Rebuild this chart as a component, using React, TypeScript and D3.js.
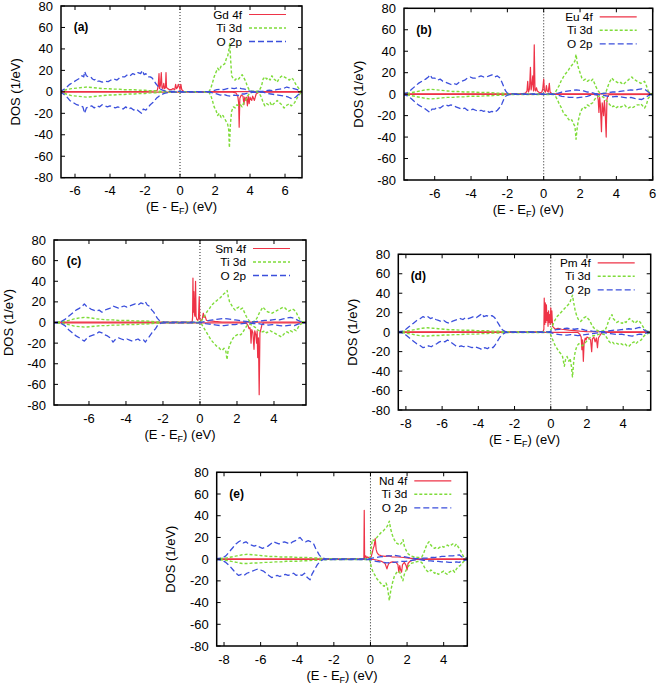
import React from 'react';
import * as d3 from 'd3';

type Pt = [number, number];

// ---------- shared axis values ----------
const Y_TICKS = [-80, -60, -40, -20, 0, 20, 40, 60, 80];
const X_TICKS_AB = [-6, -4, -2, 0, 2, 4, 6];
const X_TICKS_C = [-6, -4, -2, 0, 2, 4];
const X_TICKS_DE = [-8, -6, -4, -2, 0, 2, 4];
const PANEL_LABELS = ['(a)', '(b)', '(c)', '(d)', '(e)'];
const ELEMENTS = ['Gd', 'Eu', 'Sm', 'Pm', 'Nd'];
const SERIES_NAMES = ['4f', 'Ti 3d', 'O 2p'];

// ---------- (a) Gd ----------
const GD_F_UP: Pt[] = [[-6.9,0.3],[-2,0.5],[-1.5,0.8],[-1.3,1.5],[-1.25,5],[-1.2,17],[-1.17,3],[-1.12,6],[-1.07,18],[-1.03,4],[-0.98,3],[-0.93,8],[-0.88,3],[-0.83,4],[-0.8,18],[-0.77,4],[-0.7,3],[-0.6,2],[-0.5,2],[-0.4,3],[-0.3,2],[-0.25,7],[-0.2,3],[-0.15,4],[-0.1,7],[-0.05,5],[0,2],[0.05,7],[0.1,2],[0.2,0.5],[1.5,0.3],[7.1,0.3]];
const GD_F_DN: Pt[] = [[-6.9,-0.3],[3.0,-0.3],[3.2,-1],[3.3,-4],[3.35,-10],[3.38,-33],[3.42,-6],[3.5,-3],[3.6,-4],[3.65,-12],[3.7,-5],[3.75,-8],[3.8,-5],[3.85,-13],[3.9,-4],[3.95,-11],[4.0,-5],[4.1,-8],[4.15,-4],[4.25,-8],[4.3,-5],[4.35,-2],[4.5,-0.3],[7.1,-0.3]];
const GD_TI_UP: Pt[] = [[-6.9,0.5],[-6.5,2],[-6.2,3],[-5.9,3.5],[-5.6,4],[-5.3,4.5],[-5.0,4],[-4.7,3.5],[-4.4,3],[-4.1,3],[-3.8,2.5],[-3.5,2.5],[-3.2,2],[-2.9,2],[-2.6,2],[-2.3,1.5],[-2,1.5],[-1.7,1],[-1.4,1],[-1.1,0.5],[-0.8,0.3],[0,0.2],[1.65,0.2],[1.75,3],[1.85,8],[1.95,14],[2.05,18],[2.15,22],[2.25,20],[2.35,24],[2.45,25],[2.55,26],[2.65,31],[2.72,33],[2.78,38],[2.84,45],[2.9,28],[2.95,15],[3.05,12],[3.15,11],[3.25,13],[3.35,12],[3.45,14],[3.55,16],[3.65,13],[3.75,10],[3.85,5],[3.95,2],[4.1,0.5],[4.5,0.5],[4.65,5],[4.75,12],[4.85,14],[4.95,12],[5.05,13],[5.15,11],[5.25,15],[5.35,12],[5.45,11],[5.55,9],[5.65,12],[5.75,14],[5.85,15],[5.95,14],[6.05,13],[6.15,12],[6.25,11],[6.35,13],[6.45,12],[6.55,9],[6.65,6],[6.75,4],[6.9,1],[7.1,0.3]];
const GD_TI_DN: Pt[] = [[-6.9,-0.5],[-6.5,-2],[-6.2,-3.5],[-5.9,-4],[-5.6,-4.5],[-5.3,-5],[-5.0,-4.5],[-4.7,-4],[-4.4,-3.5],[-4.1,-3],[-3.8,-3],[-3.5,-2.5],[-3.2,-2.5],[-2.9,-2],[-2.6,-2],[-2.3,-1.5],[-2,-1.5],[-1.7,-1],[-1.4,-1],[-1.1,-0.5],[-0.8,-0.3],[0,-0.2],[1.65,-0.2],[1.75,-3],[1.85,-8],[1.95,-14],[2.05,-17],[2.15,-22],[2.25,-20],[2.35,-24],[2.45,-22],[2.55,-25],[2.65,-28],[2.72,-30],[2.78,-35],[2.82,-52],[2.88,-30],[2.95,-18],[3.05,-14],[3.15,-15],[3.25,-12],[3.35,-13],[3.45,-12],[3.55,-14],[3.65,-10],[3.75,-8],[3.85,-4],[3.95,-2],[4.1,-0.5],[4.5,-0.5],[4.65,-5],[4.75,-10],[4.85,-13],[4.95,-11],[5.05,-12],[5.15,-10],[5.25,-13],[5.35,-11],[5.45,-10],[5.55,-8],[5.65,-10],[5.75,-11],[5.85,-13],[5.95,-15],[6.05,-13],[6.15,-12],[6.25,-11],[6.35,-13],[6.45,-12],[6.55,-10],[6.65,-7],[6.75,-4],[6.9,-1],[7.1,-0.3]];
const GD_O_UP: Pt[] = [[-6.9,0.5],[-6.7,1.5],[-6.5,4],[-6.3,7],[-6.1,9],[-5.9,11],[-5.7,13],[-5.6,15],[-5.5,14],[-5.45,19],[-5.35,15],[-5.25,14],[-5.1,14],[-5.0,12],[-4.9,11],[-4.8,12],[-4.7,10],[-4.6,10],[-4.45,9],[-4.3,10],[-4.1,9.5],[-3.95,11],[-3.8,12],[-3.6,11],[-3.45,13],[-3.3,14],[-3.15,14],[-3.0,16],[-2.85,15],[-2.7,17],[-2.55,16],[-2.4,18],[-2.25,17],[-2.15,20],[-2.05,16],[-1.95,17],[-1.85,14],[-1.7,14],[-1.6,13],[-1.5,11],[-1.4,8],[-1.3,6],[-1.2,4],[-1.1,2.5],[-1.0,1.5],[-0.85,0.8],[-0.6,0.5],[-0.3,0.5],[0,0.5],[0.1,0.2],[1.7,0.2],[1.9,1],[2.1,2],[2.3,2.5],[2.5,2],[2.7,3],[2.9,3.5],[3.1,3],[3.3,4],[3.5,3],[3.7,2.5],[3.9,1],[4.1,0.5],[4.4,0.3],[4.7,0.5],[4.9,1],[5.1,1.5],[5.3,1],[5.5,2],[5.7,2.5],[5.9,3],[6.1,4.5],[6.3,3.5],[6.5,3],[6.7,2],[6.9,0.5],[7.1,0.3]];
const GD_O_DN: Pt[] = [[-6.9,-0.5],[-6.7,-1.5],[-6.5,-4],[-6.3,-8],[-6.1,-10],[-5.9,-12],[-5.7,-13],[-5.55,-14],[-5.45,-20],[-5.35,-15],[-5.2,-14],[-5.05,-13],[-4.9,-15],[-4.75,-13],[-4.6,-14],[-4.45,-12],[-4.3,-13],[-4.15,-14],[-4.0,-13],[-3.85,-14],[-3.7,-15],[-3.55,-14],[-3.4,-15],[-3.25,-16],[-3.1,-14],[-2.95,-16],[-2.8,-15],[-2.65,-17],[-2.5,-16],[-2.35,-18],[-2.2,-20],[-2.1,-16],[-1.95,-17],[-1.85,-15],[-1.7,-12],[-1.55,-10],[-1.45,-8],[-1.35,-6],[-1.2,-4],[-1.05,-2.5],[-0.9,-1.5],[-0.7,-0.8],[-0.4,-0.3],[0,-0.3],[1.7,-0.2],[1.9,-1],[2.1,-2],[2.3,-3],[2.5,-2.5],[2.7,-3.5],[2.9,-4],[3.1,-3],[3.3,-3.5],[3.5,-2],[3.7,-2],[3.9,-1],[4.1,-0.5],[4.5,-0.3],[4.8,-0.5],[5.0,-1.5],[5.2,-2],[5.4,-2.5],[5.6,-3],[5.8,-3.5],[6.0,-4],[6.2,-5],[6.4,-6.5],[6.6,-5],[6.8,-2],[7.1,-0.3]];

// ---------- (b) Eu ----------
const EU_F_UP: Pt[] = [[-7.8,0.3],[-1.2,0.3],[-1.0,1],[-0.92,3],[-0.88,12],[-0.84,2],[-0.78,5],[-0.73,25],[-0.69,4],[-0.64,10],[-0.6,17],[-0.56,3],[-0.52,46],[-0.48,4],[-0.44,3],[-0.4,6],[-0.35,3],[-0.28,2],[-0.2,1],[-0.1,2],[-0.05,5],[0.0,14],[0.04,3],[0.1,2],[0.15,8],[0.19,3],[0.25,2],[0.31,10],[0.35,2],[0.45,0.5],[1,0.3],[6.1,0.3]];
const EU_F_DN: Pt[] = [[-7.8,-0.3],[2.8,-0.3],[2.95,-1],[3.0,-5],[3.04,-17],[3.08,-3],[3.12,-10],[3.18,-35],[3.22,-8],[3.26,-14],[3.3,-20],[3.34,-6],[3.38,-15],[3.44,-40],[3.48,-5],[3.52,-2],[3.6,-0.5],[6.1,-0.3]];
const EU_TI_UP: Pt[] = [[-7.8,0.3],[-7.4,1],[-7.1,2],[-6.8,3],[-6.5,4],[-6.2,4.5],[-5.9,4],[-5.6,3.5],[-5.3,3],[-5.0,2.5],[-4.7,2.5],[-4.4,2],[-4.1,2],[-3.8,2],[-3.5,1.5],[-3.2,1.5],[-2.9,1.5],[-2.6,1],[-2.3,1],[-2.0,0.5],[-1.7,0.3],[0.55,0.3],[0.65,2],[0.75,5],[0.85,8],[0.95,12],[1.05,15],[1.15,18],[1.25,20],[1.35,22],[1.45,25],[1.55,27],[1.65,29],[1.72,31],[1.78,37],[1.84,30],[1.9,25],[2.0,20],[2.1,15],[2.2,13],[2.3,14],[2.4,12],[2.5,13],[2.6,12],[2.7,14],[2.8,10],[2.9,6],[3.0,3],[3.1,1],[3.3,0.5],[3.45,3],[3.55,8],[3.65,12],[3.75,15],[3.85,13],[3.95,12],[4.05,11],[4.15,10],[4.25,11],[4.35,9],[4.45,10],[4.55,12],[4.65,13],[4.75,15],[4.85,16],[4.95,14],[5.05,13],[5.15,12],[5.25,11],[5.35,10],[5.45,11],[5.55,12],[5.65,8],[5.75,3],[5.9,0.5],[6.1,0.3]];
const EU_TI_DN: Pt[] = [[-7.8,-0.3],[-7.4,-1],[-7.1,-2],[-6.8,-3],[-6.5,-4],[-6.2,-4.5],[-5.9,-4],[-5.6,-3.5],[-5.3,-3],[-5.0,-3],[-4.7,-2.5],[-4.4,-2.5],[-4.1,-2],[-3.8,-2],[-3.5,-2],[-3.2,-1.5],[-2.9,-1.5],[-2.6,-1],[-2.3,-1],[-2.0,-0.5],[-1.7,-0.3],[0.55,-0.3],[0.65,-2],[0.75,-5],[0.85,-9],[0.95,-12],[1.05,-16],[1.15,-19],[1.25,-20],[1.35,-23],[1.45,-25],[1.55,-24],[1.65,-28],[1.72,-30],[1.78,-42],[1.84,-32],[1.9,-25],[2.0,-18],[2.1,-14],[2.2,-12],[2.3,-13],[2.4,-10],[2.5,-11],[2.6,-9],[2.7,-8],[2.8,-5],[2.9,-3],[3.0,-2],[3.15,-1.5],[3.3,-3],[3.45,-6],[3.55,-8],[3.65,-10],[3.75,-12],[3.85,-11],[3.95,-13],[4.05,-12],[4.15,-11],[4.25,-12],[4.35,-11],[4.45,-10],[4.55,-12],[4.65,-13],[4.75,-12],[4.85,-13],[4.95,-12],[5.05,-11],[5.15,-10],[5.25,-10],[5.35,-9],[5.45,-11],[5.55,-13],[5.65,-10],[5.75,-4],[5.9,-1],[6.1,-0.3]];
const EU_O_UP: Pt[] = [[-7.8,0.3],[-7.5,1.5],[-7.3,4],[-7.1,7],[-6.9,10],[-6.7,12],[-6.5,14],[-6.35,16],[-6.25,18],[-6.15,15],[-6.0,15],[-5.85,13],[-5.7,14],[-5.55,12],[-5.4,11],[-5.25,10],[-5.1,9],[-4.95,10],[-4.8,9],[-4.65,11],[-4.5,12],[-4.35,13],[-4.2,15],[-4.05,16],[-3.9,15],[-3.75,15],[-3.6,16],[-3.45,17],[-3.3,16],[-3.15,16],[-3.0,17],[-2.85,18],[-2.7,16],[-2.55,17],[-2.4,15],[-2.3,11],[-2.2,7],[-2.1,3],[-2.0,1],[-1.9,0.5],[-1.7,0.3],[0.6,0.3],[0.8,1],[1.0,2],[1.2,2.5],[1.4,3],[1.6,3.5],[1.8,4],[2.0,3.5],[2.2,3],[2.4,2],[2.6,1.5],[2.8,0.8],[3.0,0.5],[3.2,0.5],[3.4,1],[3.6,1.5],[3.8,2],[4.0,2],[4.2,2.5],[4.4,3],[4.6,3.5],[4.8,4],[5.0,3.5],[5.2,4.5],[5.4,5],[5.6,4],[5.75,2],[5.9,0.5],[6.1,0.3]];
const EU_O_DN: Pt[] = [[-7.8,-0.3],[-7.5,-1.5],[-7.3,-4],[-7.1,-7],[-6.9,-10],[-6.7,-12],[-6.5,-14],[-6.35,-16],[-6.25,-17],[-6.15,-14],[-6.0,-14],[-5.85,-12],[-5.7,-13],[-5.55,-11],[-5.4,-10],[-5.25,-11],[-5.1,-10],[-4.95,-11],[-4.8,-12],[-4.65,-13],[-4.5,-14],[-4.35,-13],[-4.2,-15],[-4.05,-15],[-3.9,-14],[-3.75,-15],[-3.6,-16],[-3.45,-15],[-3.3,-16],[-3.15,-15],[-3.0,-17],[-2.85,-16],[-2.7,-17],[-2.55,-15],[-2.4,-12],[-2.3,-9],[-2.2,-5],[-2.1,-2],[-2.0,-1],[-1.9,-0.5],[-1.7,-0.3],[0.6,-0.3],[0.8,-1],[1.0,-2],[1.2,-2.5],[1.4,-3],[1.6,-3],[1.8,-3.5],[2.0,-3],[2.2,-2.5],[2.4,-2],[2.6,-1],[2.8,-0.5],[3.0,-0.5],[3.2,-1],[3.4,-1.5],[3.6,-2],[3.8,-2.5],[4.0,-2],[4.2,-2.5],[4.4,-3],[4.6,-3.5],[4.8,-3],[5.0,-4],[5.2,-4.5],[5.4,-5],[5.6,-3],[5.75,-1.5],[5.9,-0.5],[6.1,-0.3]];

// ---------- (c) Sm ----------
const SM_F_UP: Pt[] = [[-8,0.3],[-0.5,0.3],[-0.42,1],[-0.4,5],[-0.38,43],[-0.36,10],[-0.33,30],[-0.3,8],[-0.27,6],[-0.24,40],[-0.21,6],[-0.17,3],[-0.12,2],[-0.08,4],[-0.04,25],[-0.01,3],[0.05,2],[0.12,3],[0.18,9],[0.22,5],[0.28,6],[0.35,2],[0.5,1.5],[0.8,1],[1.2,0.5],[5.8,0.3]];
const SM_F_DN: Pt[] = [[-8,-0.3],[2.5,-0.3],[2.6,-3],[2.65,-6],[2.7,-5],[2.73,-8],[2.76,-20],[2.8,-7],[2.86,-10],[2.92,-26],[2.96,-8],[3.02,-12],[3.06,-20],[3.09,-8],[3.12,-34],[3.16,-15],[3.2,-70],[3.24,-10],[3.3,-6],[3.35,-2],[3.45,-0.5],[5.8,-0.3]];
const SM_TI_UP: Pt[] = [[-8,0.3],[-7.7,0.5],[-7.4,1],[-7.1,2],[-6.8,3.5],[-6.5,4.5],[-6.2,5],[-5.9,4.5],[-5.6,3.5],[-5.3,3],[-5.0,2.5],[-4.7,2.5],[-4.4,2],[-4.1,2],[-3.8,2],[-3.5,1.5],[-3.2,1.5],[-2.9,1.5],[-2.6,1],[-2.3,0.5],[-2.0,0.3],[0.0,0.3],[0.1,2],[0.2,5],[0.3,8],[0.4,11],[0.5,13],[0.6,16],[0.7,18],[0.8,20],[0.9,21],[1.0,23],[1.1,24],[1.2,26],[1.3,28],[1.4,29],[1.47,31],[1.53,25],[1.6,20],[1.7,17],[1.8,14],[1.9,12],[2.0,14],[2.1,15],[2.2,13],[2.3,14],[2.4,10],[2.5,6],[2.6,3],[2.7,1],[2.85,0.5],[3.0,2],[3.1,5],[3.2,9],[3.3,12],[3.4,15],[3.5,13],[3.6,11],[3.7,10],[3.8,10],[3.9,9],[4.0,10],[4.1,11],[4.2,12],[4.3,13],[4.4,14],[4.5,15],[4.6,14],[4.7,12],[4.8,11],[4.9,12],[5.0,13],[5.1,12],[5.2,10],[5.3,6],[5.4,3],[5.5,1],[5.8,0.3]];
const SM_TI_DN: Pt[] = [[-8,-0.3],[-7.7,-0.5],[-7.4,-1],[-7.1,-2],[-6.8,-3.5],[-6.5,-4],[-6.2,-4.5],[-5.9,-4],[-5.6,-3.5],[-5.3,-3],[-5.0,-3],[-4.7,-2.5],[-4.4,-2.5],[-4.1,-2],[-3.8,-2],[-3.5,-2],[-3.2,-1.5],[-2.9,-1.5],[-2.6,-1],[-2.3,-0.5],[-2.0,-0.3],[0.0,-0.3],[0.1,-2],[0.2,-5],[0.3,-8],[0.4,-11],[0.5,-14],[0.6,-17],[0.7,-19],[0.8,-21],[0.9,-23],[1.0,-24],[1.1,-26],[1.2,-27],[1.3,-25],[1.4,-28],[1.46,-36],[1.52,-27],[1.6,-22],[1.7,-18],[1.8,-15],[1.9,-13],[2.0,-12],[2.1,-11],[2.2,-12],[2.3,-10],[2.4,-7],[2.5,-4],[2.6,-2],[2.7,-1.5],[2.85,-3],[3.0,-5],[3.1,-7],[3.2,-8],[3.3,-9],[3.4,-9],[3.5,-8],[3.6,-10],[3.7,-9],[3.8,-8],[3.9,-9],[4.0,-10],[4.1,-11],[4.2,-12],[4.3,-13],[4.4,-14],[4.5,-12],[4.6,-10],[4.7,-9],[4.8,-10],[4.9,-8],[5.0,-9],[5.1,-7],[5.2,-8],[5.3,-5],[5.4,-2],[5.5,-1],[5.8,-0.3]];
const SM_O_UP: Pt[] = [[-8,0.3],[-7.75,0.5],[-7.5,1],[-7.3,3],[-7.1,6],[-6.9,9],[-6.7,12],[-6.5,14],[-6.35,16],[-6.25,18],[-6.15,16],[-6.05,15],[-5.9,13],[-5.75,12],[-5.6,11],[-5.45,12],[-5.3,10],[-5.15,12],[-5.0,13],[-4.85,14],[-4.7,16],[-4.55,15],[-4.4,14],[-4.25,15],[-4.1,16],[-3.95,15],[-3.8,16],[-3.65,17],[-3.5,18],[-3.35,17],[-3.2,19],[-3.05,18],[-2.95,20],[-2.85,17],[-2.75,16],[-2.6,12],[-2.5,10],[-2.4,7],[-2.3,4],[-2.2,2],[-2.1,0.8],[-1.9,0.3],[0.1,0.3],[0.3,1],[0.5,2],[0.7,2.5],[0.9,3],[1.1,3.5],[1.3,4],[1.5,3.5],[1.7,3],[1.9,2.5],[2.1,2],[2.3,1.5],[2.5,1],[2.7,0.5],[2.9,0.5],[3.1,1],[3.3,1.5],[3.5,2],[3.7,2],[3.9,2.5],[4.1,3],[4.3,2.5],[4.5,3.5],[4.7,4.5],[4.9,5],[5.1,4],[5.3,2],[5.45,0.8],[5.8,0.3]];
const SM_O_DN: Pt[] = [[-8,-0.3],[-7.75,-0.5],[-7.5,-1],[-7.3,-3],[-7.1,-7],[-6.9,-10],[-6.7,-13],[-6.5,-15],[-6.35,-17],[-6.25,-18],[-6.15,-16],[-6.05,-14],[-5.9,-13],[-5.75,-12],[-5.6,-11],[-5.45,-9],[-5.3,-10],[-5.15,-12],[-5.0,-13],[-4.85,-15],[-4.7,-19],[-4.55,-16],[-4.4,-15],[-4.25,-16],[-4.1,-17],[-3.95,-16],[-3.8,-17],[-3.65,-18],[-3.5,-17],[-3.35,-16],[-3.2,-18],[-3.05,-17],[-2.95,-19],[-2.85,-16],[-2.75,-14],[-2.6,-10],[-2.5,-8],[-2.4,-6],[-2.3,-3],[-2.2,-1.5],[-2.1,-0.5],[-1.9,-0.3],[0.1,-0.3],[0.3,-1],[0.5,-1.5],[0.7,-2],[0.9,-2.5],[1.1,-3],[1.3,-3],[1.5,-2.5],[1.7,-2],[1.9,-2],[2.1,-1.5],[2.3,-1],[2.5,-0.5],[2.7,-0.5],[2.9,-1],[3.1,-1],[3.3,-1.5],[3.5,-2],[3.7,-2.5],[3.9,-2],[4.1,-2.5],[4.3,-3],[4.5,-3.5],[4.7,-3],[4.9,-2.5],[5.1,-3],[5.3,-1.5],[5.45,-0.8],[5.8,-0.3]];

// ---------- (d) Pm ----------
const PM_F_UP: Pt[] = [[-8.5,0.3],[-0.5,0.3],[-0.42,1],[-0.38,3],[-0.36,35],[-0.33,8],[-0.3,30],[-0.27,10],[-0.24,28],[-0.21,12],[-0.18,20],[-0.15,6],[-0.12,22],[-0.09,10],[-0.06,18],[-0.03,8],[0.0,25],[0.03,10],[0.06,22],[0.1,6],[0.15,5],[0.25,3],[0.4,4],[0.6,3],[0.8,2.5],[1.0,2],[1.3,1.5],[1.6,1],[2.0,0.5],[5.6,0.3]];
const PM_F_DN: Pt[] = [[-8.5,-0.3],[1.5,-0.3],[1.6,-2],[1.68,-5],[1.72,-18],[1.76,-8],[1.8,-30],[1.84,-12],[1.9,-6],[1.95,-8],[2.0,-5],[2.1,-6],[2.2,-8],[2.26,-20],[2.3,-7],[2.38,-5],[2.45,-10],[2.52,-6],[2.58,-16],[2.63,-6],[2.7,-4],[2.8,-1],[2.9,-0.3],[5.6,-0.3]];
const PM_TI_UP: Pt[] = [[-8.5,0.3],[-8.0,1],[-7.7,2],[-7.4,3],[-7.1,4],[-6.8,4.5],[-6.5,4],[-6.2,3.5],[-5.9,3],[-5.6,2.5],[-5.3,2.5],[-5.0,2],[-4.7,2],[-4.4,2],[-4.1,1.5],[-3.8,1.5],[-3.5,1.5],[-3.2,1],[-2.9,1],[-2.6,0.5],[-2.3,0.3],[-0.05,0.3],[0.05,4],[0.15,9],[0.25,13],[0.35,16],[0.45,18],[0.55,20],[0.65,22],[0.75,24],[0.85,26],[0.95,28],[1.05,30],[1.12,34],[1.2,38],[1.27,30],[1.35,22],[1.45,16],[1.55,12],[1.65,11],[1.75,13],[1.85,15],[1.95,16],[2.05,14],[2.15,12],[2.25,8],[2.35,5],[2.45,3],[2.6,1.5],[2.8,1],[3.0,2],[3.1,6],[3.2,12],[3.3,16],[3.38,18],[3.45,14],[3.55,12],[3.65,10],[3.75,11],[3.85,10],[3.95,9],[4.05,11],[4.15,10],[4.25,12],[4.35,14],[4.45,12],[4.55,11],[4.65,9],[4.75,11],[4.85,12],[4.95,10],[5.05,7],[5.15,4],[5.3,1],[5.6,0.3]];
const PM_TI_DN: Pt[] = [[-8.5,-0.3],[-8.0,-1],[-7.7,-2],[-7.4,-3],[-7.1,-4],[-6.8,-4],[-6.5,-3.5],[-6.2,-3.5],[-5.9,-3],[-5.6,-3],[-5.3,-2.5],[-5.0,-2.5],[-4.7,-2],[-4.4,-2],[-4.1,-2],[-3.8,-1.5],[-3.5,-1.5],[-3.2,-1],[-2.9,-1],[-2.6,-0.5],[-2.3,-0.3],[-0.05,-0.3],[0.05,-5],[0.15,-10],[0.25,-14],[0.35,-17],[0.45,-20],[0.55,-22],[0.65,-25],[0.75,-35],[0.82,-28],[0.9,-25],[1.0,-30],[1.07,-27],[1.14,-35],[1.2,-46],[1.27,-30],[1.35,-20],[1.45,-14],[1.55,-12],[1.65,-13],[1.75,-14],[1.85,-12],[1.95,-10],[2.05,-8],[2.15,-6],[2.3,-4],[2.5,-3],[2.7,-2],[2.9,-2],[3.0,-3],[3.1,-6],[3.2,-9],[3.3,-11],[3.4,-10],[3.5,-12],[3.6,-11],[3.7,-12],[3.8,-13],[3.9,-12],[4.0,-13],[4.1,-12],[4.2,-14],[4.3,-15],[4.4,-13],[4.5,-11],[4.6,-10],[4.7,-12],[4.8,-10],[4.9,-9],[5.0,-8],[5.1,-5],[5.25,-2],[5.6,-0.3]];
const PM_O_UP: Pt[] = [[-8.5,0.3],[-8.15,1],[-8.0,3],[-7.8,6],[-7.6,9],[-7.4,12],[-7.2,14],[-7.05,16],[-6.95,15],[-6.8,16],[-6.65,14],[-6.5,15],[-6.35,13],[-6.2,12],[-6.05,11],[-5.9,12],[-5.75,10],[-5.6,9],[-5.45,11],[-5.3,12],[-5.15,13],[-5.0,14],[-4.85,13],[-4.7,15],[-4.55,14],[-4.4,15],[-4.25,16],[-4.1,15],[-3.95,17],[-3.8,19],[-3.7,16],[-3.55,17],[-3.4,16],[-3.25,17],[-3.1,15],[-3.0,12],[-2.9,9],[-2.8,6],[-2.7,3],[-2.6,1.5],[-2.5,0.5],[-2.3,0.3],[-0.1,0.3],[0.1,1.5],[0.3,2.5],[0.5,3],[0.7,3.5],[0.9,4],[1.1,3.5],[1.3,3],[1.5,3.5],[1.7,3],[1.9,2],[2.1,1.5],[2.3,1],[2.5,0.8],[2.7,0.5],[2.9,0.5],[3.1,1],[3.3,1.5],[3.5,2],[3.7,2],[3.9,2.5],[4.1,3],[4.3,3.5],[4.5,3],[4.7,4],[4.9,5],[5.1,3],[5.25,1],[5.6,0.3]];
const PM_O_DN: Pt[] = [[-8.5,-0.3],[-8.15,-1],[-8.0,-3],[-7.8,-6],[-7.6,-9],[-7.4,-12],[-7.2,-14],[-7.05,-16],[-6.9,-15],[-6.75,-14],[-6.6,-15],[-6.45,-13],[-6.3,-12],[-6.15,-10],[-6.0,-9],[-5.85,-10],[-5.7,-8],[-5.55,-10],[-5.4,-12],[-5.25,-14],[-5.1,-15],[-4.95,-14],[-4.8,-15],[-4.65,-14],[-4.5,-15],[-4.35,-16],[-4.2,-15],[-4.05,-16],[-3.9,-17],[-3.8,-18],[-3.65,-16],[-3.5,-17],[-3.35,-15],[-3.2,-16],[-3.1,-14],[-3.0,-11],[-2.9,-8],[-2.8,-5],[-2.7,-3],[-2.6,-1.5],[-2.5,-0.5],[-2.3,-0.3],[-0.1,-0.3],[0.1,-1],[0.3,-2],[0.5,-2.5],[0.7,-3],[0.9,-3],[1.1,-2.5],[1.3,-3],[1.5,-3.5],[1.7,-3],[1.9,-2.5],[2.1,-2],[2.3,-1.5],[2.5,-1],[2.7,-0.5],[2.9,-0.5],[3.1,-1],[3.3,-1.5],[3.5,-2],[3.7,-2.5],[3.9,-2],[4.1,-3],[4.3,-3.5],[4.5,-4],[4.7,-3],[4.9,-2],[5.1,-2.5],[5.25,-1],[5.6,-0.3]];

// ---------- (e) Nd ----------
const ND_F_UP: Pt[] = [[-8.5,0.3],[-0.4,0.3],[-0.36,0.5],[-0.34,45],[-0.32,0.5],[-0.26,3],[-0.2,1],[-0.15,2],[-0.05,1],[0.0,1],[0.05,3],[0.1,6],[0.15,10],[0.2,12],[0.26,19],[0.31,9],[0.36,6],[0.45,4],[0.6,3],[0.8,2.5],[1.0,3],[1.2,2],[1.5,2],[1.8,1.5],[2.1,1],[2.4,0.5],[5.4,0.3]];
const ND_F_DN: Pt[] = [[-8.5,-0.3],[0.2,-0.3],[0.4,-1],[0.6,-2],[0.8,-4],[0.9,-9],[0.95,-6],[1.0,-4],[1.1,-3],[1.2,-2.5],[1.4,-3],[1.5,-5],[1.55,-12],[1.6,-6],[1.65,-10],[1.7,-12],[1.75,-5],[1.85,-3],[1.95,-6],[2.0,-10],[2.05,-4],[2.15,-2],[2.3,-1],[2.5,-0.3],[5.4,-0.3]];
const ND_TI_UP: Pt[] = [[-8.5,0.3],[-7.9,1],[-7.6,2],[-7.3,3],[-7.0,4],[-6.7,4.5],[-6.4,4],[-6.1,3.5],[-5.8,3],[-5.5,2.5],[-5.2,2.5],[-4.9,2],[-4.6,2],[-4.3,2],[-4.0,1.5],[-3.7,1.5],[-3.4,1.5],[-3.1,1],[-2.8,1],[-2.5,0.5],[-2.2,0.3],[-0.05,0.3],[0.0,3],[0.05,12],[0.1,18],[0.2,17],[0.3,19],[0.4,21],[0.5,23],[0.6,25],[0.7,26],[0.8,28],[0.9,30],[0.97,32],[1.03,35],[1.1,28],[1.2,22],[1.3,18],[1.4,15],[1.5,14],[1.6,13],[1.7,15],[1.78,18],[1.85,12],[1.95,8],[2.05,5],[2.2,3],[2.4,2],[2.6,1.5],[2.8,2],[2.9,5],[3.0,10],[3.1,14],[3.2,16],[3.3,13],[3.4,11],[3.5,10],[3.6,11],[3.7,10],[3.8,11],[3.9,12],[4.0,11],[4.1,12],[4.2,13],[4.3,12],[4.4,13],[4.5,14],[4.6,12],[4.7,14],[4.8,11],[4.9,9],[5.0,5],[5.1,2],[5.4,0.3]];
const ND_TI_DN: Pt[] = [[-8.5,-0.3],[-7.9,-1],[-7.6,-2],[-7.3,-3],[-7.0,-4],[-6.7,-4],[-6.4,-3.5],[-6.1,-3.5],[-5.8,-3],[-5.5,-3],[-5.2,-2.5],[-4.9,-2.5],[-4.6,-2],[-4.3,-2],[-4.0,-2],[-3.7,-1.5],[-3.4,-1.5],[-3.1,-1],[-2.8,-1],[-2.5,-0.5],[-2.2,-0.3],[-0.05,-0.3],[0.0,-3],[0.05,-8],[0.15,-12],[0.25,-15],[0.35,-18],[0.45,-20],[0.55,-22],[0.65,-24],[0.75,-25],[0.85,-22],[0.92,-25],[0.98,-32],[1.03,-38],[1.1,-30],[1.2,-22],[1.3,-16],[1.4,-13],[1.5,-11],[1.6,-12],[1.7,-17],[1.77,-20],[1.85,-14],[1.95,-10],[2.05,-7],[2.2,-4],[2.4,-3],[2.6,-2],[2.8,-3],[2.9,-6],[3.0,-9],[3.1,-11],[3.2,-12],[3.3,-10],[3.4,-11],[3.5,-13],[3.6,-12],[3.7,-14],[3.8,-13],[3.9,-12],[4.0,-11],[4.1,-13],[4.2,-14],[4.3,-12],[4.4,-11],[4.5,-10],[4.6,-12],[4.7,-9],[4.8,-7],[4.9,-6],[5.0,-4],[5.1,-2],[5.4,-0.3]];
const ND_O_UP: Pt[] = [[-8.5,0.3],[-8.1,1],[-7.9,3],[-7.7,7],[-7.5,11],[-7.35,14],[-7.2,16],[-7.1,17],[-6.95,15],[-6.8,16],[-6.65,14],[-6.5,13],[-6.35,12],[-6.2,13],[-6.05,11],[-5.9,10],[-5.75,11],[-5.6,12],[-5.45,14],[-5.3,16],[-5.15,15],[-5.0,14],[-4.85,15],[-4.7,16],[-4.55,15],[-4.4,14],[-4.25,16],[-4.1,17],[-3.95,19],[-3.85,20],[-3.7,17],[-3.55,16],[-3.4,17],[-3.25,16],[-3.1,14],[-3.0,10],[-2.9,7],[-2.8,4],[-2.7,2],[-2.6,1],[-2.45,0.3],[-0.1,0.3],[0.1,1],[0.3,1.5],[0.5,2],[0.7,2.5],[0.9,3],[1.1,3],[1.3,3.5],[1.5,3],[1.7,2.5],[1.9,2],[2.1,1.5],[2.3,1],[2.5,0.5],[2.7,0.5],[2.9,1],[3.1,1],[3.3,1.5],[3.5,1.5],[3.7,2],[3.9,2.5],[4.1,2.5],[4.3,3],[4.5,3],[4.7,3.5],[4.85,4],[5.0,2],[5.4,0.3]];
const ND_O_DN: Pt[] = [[-8.5,-0.3],[-8.1,-1],[-7.9,-3],[-7.7,-6],[-7.5,-10],[-7.35,-13],[-7.2,-15],[-7.05,-14],[-6.9,-15],[-6.75,-13],[-6.6,-12],[-6.45,-11],[-6.3,-10],[-6.15,-9],[-6.0,-10],[-5.85,-11],[-5.7,-13],[-5.55,-15],[-5.4,-17],[-5.25,-16],[-5.1,-15],[-4.95,-16],[-4.8,-15],[-4.65,-14],[-4.5,-15],[-4.35,-14],[-4.2,-13],[-4.05,-15],[-3.9,-14],[-3.75,-15],[-3.6,-13],[-3.45,-17],[-3.3,-19],[-3.2,-14],[-3.1,-11],[-3.0,-8],[-2.9,-5],[-2.8,-3],[-2.7,-1.5],[-2.6,-0.5],[-2.45,-0.3],[-0.1,-0.3],[0.1,-1],[0.3,-2],[0.5,-2.5],[0.7,-3],[0.9,-3.5],[1.1,-3],[1.3,-3],[1.5,-2.5],[1.7,-2],[1.9,-2],[2.1,-1.5],[2.3,-1],[2.5,-0.5],[2.7,-0.5],[2.9,-1],[3.1,-1.5],[3.3,-1.5],[3.5,-2],[3.7,-2],[3.9,-2.5],[4.1,-2.5],[4.3,-3],[4.5,-3],[4.7,-2.5],[4.85,-3],[5.0,-1.5],[5.4,-0.3]];

// ---------- layout (positions/styles) ----------
const FONT = '"Liberation Sans", Arial, Helvetica, sans-serif';
const RED = '#ee3347';
const GREEN = '#7fdc3a';
const BLUE = '#3b4fdc';

interface PanelDef {
  left: number; right: number; top: number; bottom: number;
  xDomain: [number, number]; xTicks: number[];
  series: Pt[][]; // f up, f dn, ti up, ti dn, o up, o dn
}

const PANELS: PanelDef[] = [
  { left: 61, right: 302, top: 6, bottom: 177.7, xDomain: [-6.8, 6.97], xTicks: X_TICKS_AB,
    series: [GD_F_UP, GD_F_DN, GD_TI_UP, GD_TI_DN, GD_O_UP, GD_O_DN] },
  { left: 404, right: 652.7, top: 8.3, bottom: 180, xDomain: [-7.69, 6.0], xTicks: X_TICKS_AB,
    series: [EU_F_UP, EU_F_DN, EU_TI_UP, EU_TI_DN, EU_O_UP, EU_O_DN] },
  { left: 54, right: 306, top: 240, bottom: 405, xDomain: [-7.89, 5.73], xTicks: X_TICKS_C,
    series: [SM_F_UP, SM_F_DN, SM_TI_UP, SM_TI_DN, SM_O_UP, SM_O_DN] },
  { left: 398.3, right: 650.7, top: 254.3, bottom: 410, xDomain: [-8.42, 5.52], xTicks: X_TICKS_DE,
    series: [PM_F_UP, PM_F_DN, PM_TI_UP, PM_TI_DN, PM_O_UP, PM_O_DN] },
  { left: 216.7, right: 467.3, top: 472.3, bottom: 646, xDomain: [-8.4, 5.29], xTicks: X_TICKS_DE,
    series: [ND_F_UP, ND_F_DN, ND_TI_UP, ND_TI_DN, ND_O_UP, ND_O_DN] },
];

const STYLES = [
  { color: RED, dash: undefined as string | undefined, width: 1.2 },
  { color: GREEN, dash: '3,2', width: 1.4 },
  { color: BLUE, dash: '6,3', width: 1.3 },
];

function Panel({ p, idx }: { p: PanelDef; idx: number }) {
  const x = d3.scaleLinear().domain(p.xDomain).range([p.left, p.right]);
  const y = d3.scaleLinear().domain([-80, 80]).range([p.bottom, p.top]);
  const line = d3.line<Pt>().x(d => x(d[0])).y(d => y(d[1]));
  const clipId = `clip-${idx}`;
  const tl = 4;
  const legendNames = [`${ELEMENTS[idx]} ${SERIES_NAMES[0]}`, SERIES_NAMES[1], SERIES_NAMES[2]];
  const midY = (p.top + p.bottom) / 2;
  return (
    <g>
      <defs>
        <clipPath id={clipId}>
          <rect x={p.left} y={p.top} width={p.right - p.left} height={p.bottom - p.top} />
        </clipPath>
      </defs>
      {/* zero line at E_F */}
      <line x1={x(0)} x2={x(0)} y1={p.top} y2={p.bottom} stroke="#222" strokeWidth={1} strokeDasharray="1,2" />
      <g clipPath={`url(#${clipId})`}>
        {p.series.map((s, i) => {
          const st = STYLES[Math.floor(i / 2)];
          return (
            <path key={i} d={line(s) || ''} fill="none" stroke={st.color} strokeWidth={st.width}
              strokeDasharray={st.dash} strokeLinejoin="round" />
          );
        })}
      </g>
      {/* frame */}
      <rect x={p.left} y={p.top} width={p.right - p.left} height={p.bottom - p.top} fill="none" stroke="#000" strokeWidth={1.5} />
      {/* y ticks */}
      {Y_TICKS.map(t => (
        <g key={`y${t}`}>
          <line x1={p.left} x2={p.left + tl} y1={y(t)} y2={y(t)} stroke="#000" />
          <line x1={p.right} x2={p.right - tl} y1={y(t)} y2={y(t)} stroke="#000" />
          <text x={p.left - 8} y={y(t)} dy="0.35em" textAnchor="end" fontSize={13} fontFamily={FONT}>{t}</text>
        </g>
      ))}
      {/* x ticks */}
      {p.xTicks.map(t => (
        <g key={`x${t}`}>
          <line x1={x(t)} x2={x(t)} y1={p.bottom} y2={p.bottom - tl} stroke="#000" />
          <line x1={x(t)} x2={x(t)} y1={p.top} y2={p.top + tl} stroke="#000" />
          <text x={x(t)} y={p.bottom + 13} dy="0.35em" textAnchor="middle" fontSize={13} fontFamily={FONT}>{t}</text>
        </g>
      ))}
      {/* axis titles */}
      <text x={(p.left + p.right) / 2} y={p.bottom + 29} dy="0.35em" textAnchor="middle" fontSize={13} fontFamily={FONT}>
        (E - E<tspan fontSize={9} dy="3">F</tspan><tspan dy="-3">) (eV)</tspan>
      </text>
      <text transform={`translate(${p.left - 46},${midY}) rotate(-90)`} dy="0.35em" textAnchor="middle" fontSize={13} fontFamily={FONT}>
        DOS (1/eV)
      </text>
      {/* panel label */}
      <text x={p.left + 20} y={p.top + 21} dy="0.35em" textAnchor="middle" fontSize={12} fontWeight="bold" fontFamily={FONT}>
        {PANEL_LABELS[idx]}
      </text>
      {/* legend */}
      {legendNames.map((name, i) => {
        const ly = p.top + 8.5 + i * 13.5;
        const st = STYLES[i];
        return (
          <g key={name}>
            <text x={p.right - 60} y={ly} dy="0.35em" textAnchor="end" fontSize={11.8} fontFamily={FONT}>{name}</text>
            <line x1={p.right - 53} x2={p.right - 16} y1={ly} y2={ly} stroke={st.color} strokeWidth={st.width}
              strokeDasharray={st.dash} />
          </g>
        );
      })}
    </g>
  );
}

export default function App() {
  return (
    <svg width={661} height={685} viewBox="0 0 661 685"
      style={{ position: 'absolute', left: 0, top: 0, background: '#fff' }}>
      <rect x={0} y={0} width={661} height={685} fill="#fff" />
      {PANELS.map((p, i) => <Panel key={i} p={p} idx={i} />)}
    </svg>
  );
}
